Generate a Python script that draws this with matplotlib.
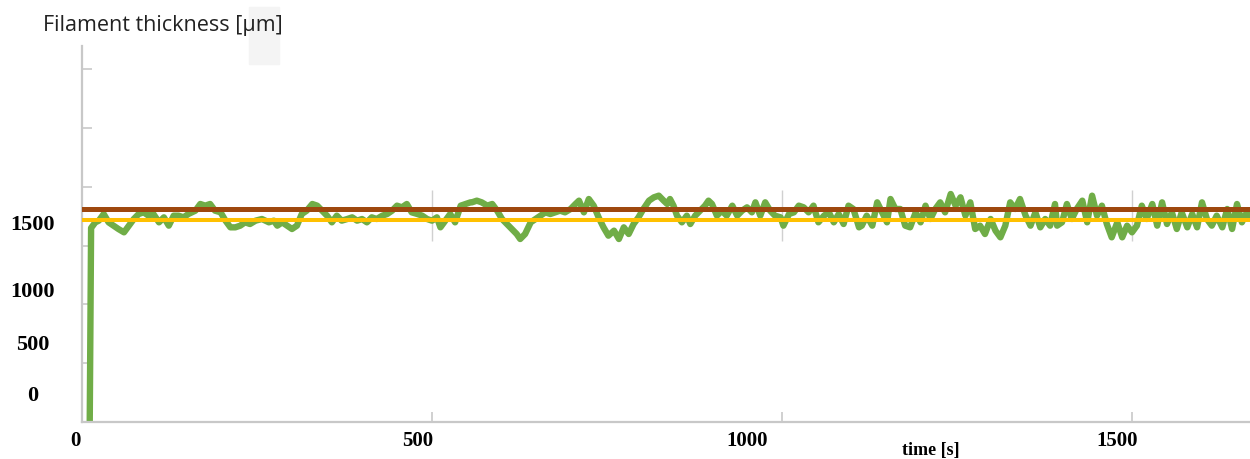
import numpy as np
import matplotlib
matplotlib.use("Agg")
import matplotlib.pyplot as plt
from matplotlib.patches import Rectangle
import matplotlib.transforms as mtransforms

# ---- data ----
time_s = [11, 13, 19, 24, 31, 38, 45, 52, 60, 67, 74, 81, 88, 95, 102, 110, 117, 124, 131, 138,
          145, 152, 162, 169, 176, 183, 190, 198, 205, 212, 219, 226, 233, 240, 248, 257, 267, 274,
          279, 286, 293, 300, 307, 314, 321, 329, 336, 343, 350, 357, 364, 371, 379, 386, 393, 400,
          407, 414, 421, 429, 436, 443, 450, 457, 464, 471, 479, 486, 493, 500, 507, 512, 519, 526,
          533, 541, 548, 555,
          557, 564, 571, 579, 586, 593, 600, 607, 614, 621, 626, 633, 641, 648, 655, 662, 669, 676,
          683, 690, 698, 705, 710, 717, 724, 731, 738, 745, 752, 760, 767, 774, 781, 788, 795, 802,
          810, 817, 824, 831,
          836, 840, 845, 850, 857, 864, 869, 876, 883, 890, 895, 900, 907, 914, 921, 929, 936, 943,
          950, 957, 962, 969, 976, 983, 990, 998, 1002, 1010, 1017, 1024, 1031, 1038, 1045, 1052,
          1060, 1067, 1074, 1081, 1088, 1095, 1102, 1110,
          1114, 1121, 1129, 1136, 1143, 1150, 1155, 1162, 1169, 1176, 1183, 1191, 1198, 1205, 1212,
          1219, 1226, 1233, 1241, 1248, 1255, 1262, 1269, 1276, 1283, 1290, 1298, 1305, 1312, 1319,
          1326, 1333, 1340, 1348, 1355, 1362, 1369, 1376, 1383, 1390,
          1393, 1400, 1407, 1414, 1421, 1429, 1436, 1443, 1450, 1457, 1464, 1471, 1479, 1486, 1493,
          1500, 1507, 1514, 1521, 1529, 1536, 1543, 1550, 1557, 1564, 1571, 1579, 1586, 1593, 1600,
          1607, 1614, 1621, 1629, 1636, 1643, 1650, 1657, 1664, 1669]
thickness_um = [-260, 1530, 1581, 1596, 1656, 1581, 1551, 1521, 1491, 1551, 1611, 1656, 1671, 1641,
                1656, 1581, 1626, 1551, 1641, 1641, 1626, 1656, 1686, 1746, 1731, 1746, 1686, 1671,
                1596, 1536, 1536, 1551, 1581, 1566, 1596, 1611, 1581, 1596,
                1551, 1581, 1551, 1521, 1551, 1656, 1686, 1746, 1731, 1686, 1641, 1581, 1641, 1596,
                1611, 1626, 1596, 1611, 1581, 1626, 1611, 1641, 1656, 1686, 1731, 1716, 1746, 1671,
                1656, 1641, 1611, 1596, 1626, 1536, 1596, 1656, 1581, 1731, 1746, 1761,
                1761, 1776, 1761, 1731, 1746, 1686, 1611, 1566, 1521, 1476, 1431, 1476, 1581, 1611,
                1641, 1671, 1656, 1671, 1686, 1671, 1701, 1746, 1776, 1671, 1791, 1731, 1626, 1536,
                1461, 1506, 1431, 1536, 1476, 1566, 1626, 1701, 1776, 1806, 1821, 1776,
                1746, 1791, 1731, 1641, 1581, 1641, 1566, 1641, 1686, 1731, 1776, 1746, 1641, 1686,
                1641, 1731, 1641, 1686, 1716, 1671, 1761, 1641, 1761, 1686, 1641, 1626, 1551, 1656,
                1671, 1731, 1716, 1671, 1731, 1581, 1641, 1671, 1581, 1656, 1566, 1731, 1701, 1536,
                1551, 1641, 1551, 1761, 1671, 1581, 1791, 1701, 1701, 1551, 1536, 1671, 1581, 1731,
                1611, 1701, 1761, 1671, 1836, 1731, 1806, 1641, 1761, 1521, 1551, 1476, 1611, 1506,
                1446, 1551, 1761, 1701, 1791, 1641, 1551, 1671, 1536, 1611, 1551, 1746,
                1551, 1581, 1746, 1611, 1701, 1776, 1581, 1821, 1641, 1731, 1566, 1446, 1581, 1446,
                1551, 1491, 1551, 1731, 1611, 1746, 1551, 1761, 1566, 1671, 1521, 1671, 1536, 1656,
                1536, 1761, 1611, 1551, 1641, 1536, 1701, 1521, 1746, 1581, 1671, 1641]
upper_ref = 1700
lower_ref = 1600

x_tick_values = [0, 500, 1000, 1500]
x_tick_labels = ["0", "500", "1000", "1500"]
y_tick_labels = ["1500", "1000", "500", "0"]

# ---- figure ----
W, H = 1250, 460
fig = plt.figure(figsize=(W / 100, H / 100), dpi=100)
ax = fig.add_axes([82 / W, 37 / H, 1168 / W, 376 / H])

xmax = 1168 / 0.7
ymin, ymax = -216, 3168
ax.set_xlim(0, xmax)
ax.set_ylim(ymin, ymax)

grey = "#c8c8c8"
for s in ["top", "right"]:
    ax.spines[s].set_visible(False)
for s in ["left", "bottom"]:
    ax.spines[s].set_color(grey)
    ax.spines[s].set_linewidth(1.6)

ax.set_xticks(x_tick_values)
ax.set_yticks(ymin + 529 * np.arange(1, 7))
ax.tick_params(axis="both", direction="in", length=7.5, width=1.2, color=grey,
               labelbottom=False, labelleft=False)

# short vertical grid segments
ax.vlines(x_tick_values[1:], 1413, 1872, color="#d0d0d0", lw=1, zorder=1)

ax.plot(time_s, thickness_um, color="#70AD47", lw=4.6, solid_joinstyle="round",
        solid_capstyle="round", zorder=2)
ax.axhline(upper_ref, color="#9E480E", lw=3.6, zorder=3)
ax.axhline(lower_ref, color="#FFC000", lw=2.9, zorder=3)

num_font = dict(family="Liberation Serif", weight="bold", size=15)

# x tick labels (placed as in the reference, slightly left of the tick marks)
xtr = mtransforms.blended_transform_factory(ax.transData, fig.transFigure)
x_label_pos = [-10, 480, 950, 1479]
for xp, lab in zip(x_label_pos, x_tick_labels):
    ax.text(xp, 1 - 441 / H, lab, transform=xtr, ha="center", va="center",
            fontdict=num_font, clip_on=False)
ax.text(1213, 1 - 451 / H, "time [s]", transform=xtr, ha="center",
        va="center", family="Liberation Serif", weight="bold", size=13, clip_on=False)

# y tick labels
ytr = mtransforms.blended_transform_factory(fig.transFigure, ax.transData)
y_label_pos = [1566, 963, 486, 27]
for yp, lab in zip(y_label_pos, y_tick_labels):
    ax.text(33 / W, yp, lab, transform=ytr, ha="center", va="center",
            family="Liberation Serif", weight="bold", size=16, clip_on=False)

# axis title top-left
fig.patches.append(Rectangle((249 / W, 1 - 65 / H), 30 / W, 57 / H,
                             transform=fig.transFigure, color="#f4f4f4", zorder=0))
fig.text(43 / W, 1 - 25 / H, "Filament thickness [µm]", family="Open Sans", size=15.5,
         ha="left", va="center", color="#222222", zorder=2)

fig.savefig("out.png", dpi=100)
